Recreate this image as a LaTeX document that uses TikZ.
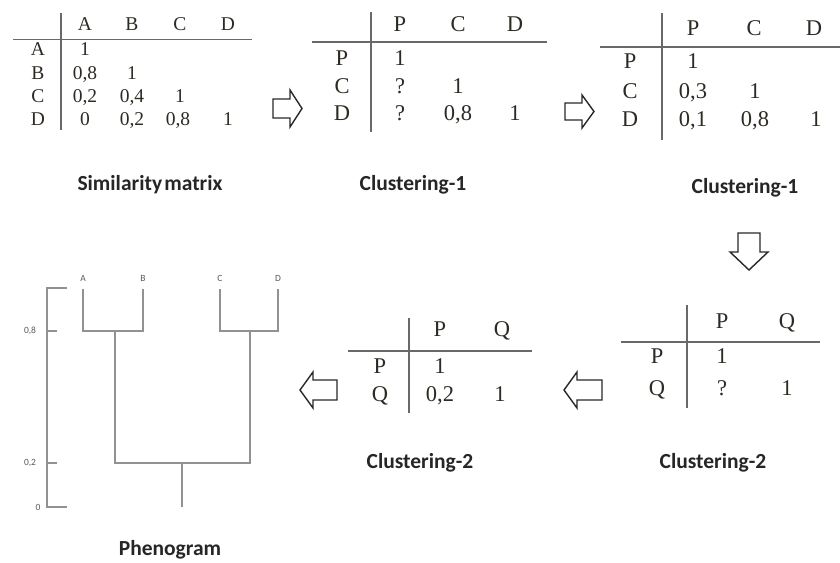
\documentclass[tikz,border=0pt]{standalone}
\usepackage{fontspec}
\setmainfont{Liberation Serif}
\newfontfamily\lblfont{Carlito}
\definecolor{tabtext}{RGB}{45,42,35}
\definecolor{tabline}{RGB}{105,105,105}
\definecolor{treeline}{RGB}{145,145,145}
\definecolor{arrowc}{RGB}{40,40,40}
\tikzset{
  ta/.style={inner sep=0pt, text=tabtext, font=\fontsize{19.5}{21}\selectfont, text height=0.68em, text depth=0pt},
  tb/.style={inner sep=0pt, text=tabtext, font=\fontsize{22.5}{24}\selectfont, text height=0.68em, text depth=0pt},
  tline/.style={draw=tabline, line width=1.5pt},
  caption/.style={inner sep=0pt, font=\lblfont\bfseries\fontsize{21.5}{23}\selectfont, text=black!85},
  tree/.style={draw=treeline, line width=2.2pt},
  small/.style={inner sep=0pt, font=\lblfont\fontsize{9.5}{10}\selectfont, text=black!65},
  blockarrow/.style={draw=arrowc, line width=1.4pt, fill=white, line join=miter}
}
\begin{document}
\begin{tikzpicture}[x=1pt,y=-1pt]
\useasboundingbox (0,0) rectangle (840,562);
% ---------- Table 1: similarity matrix
\draw[tline] (61,13) -- (61,130);
\draw[tline] (13,39.5) -- (252,39.5);
\node[ta] (t1hA) at (85,27) {A};
\node[ta] (t1hB) at (132,27) {B};
\node[ta] (t1hC) at (180,27) {C};
\node[ta] (t1hD) at (228,27) {D};
\node[ta] (t1rA) at (38,52) {A};
\node[ta] (t1rB) at (38,76) {B};
\node[ta] (t1rC) at (38,99) {C};
\node[ta] (t1rD) at (38,122) {D};
\node[ta] (t1aa) at (85,52) {1};
\node[ta] (t1ba) at (85,76) {0,8};
\node[ta] (t1bb) at (132,76) {1};
\node[ta] (t1ca) at (85,99) {0,2};
\node[ta] (t1cb) at (132,99) {0,4};
\node[ta] (t1cc) at (180,99) {1};
\node[ta] (t1da) at (85,122) {0};
\node[ta] (t1db) at (132,122) {0,2};
\node[ta] (t1dc) at (178,122) {0,8};
\node[ta] (t1dd) at (228,122) {1};
\node[caption] (cap1) at (150,185) {Similarity\hspace{0.1em}matrix};
% ---------- Table 2
\draw[tline] (371,12) -- (371,132);
\draw[tline] (312,42) -- (547,42);
\node[tb] (t2hP) at (400,28) {P};
\node[tb] (t2hC) at (458,28) {C};
\node[tb] (t2hD) at (515,28) {D};
\node[tb] (t2rP) at (342,62) {P};
\node[tb] (t2rC) at (342,90) {C};
\node[tb] (t2rD) at (342,117) {D};
\node[tb] (t2pp) at (400,62) {1};
\node[tb] (t2cp) at (400,90) {?};
\node[tb] (t2cc) at (458,90) {1};
\node[tb] (t2dp) at (400,117) {?};
\node[tb] (t2dc) at (458,117) {0,8};
\node[tb] (t2dd) at (515,117) {1};
\node[caption] (cap2) at (413,185) {Clustering-1};
% ---------- Table 3
\draw[tline] (662,13) -- (662,140);
\draw[tline] (600,47) -- (840,47);
\node[tb] (t3hP) at (693,32) {P};
\node[tb] (t3hC) at (754,32) {C};
\node[tb] (t3hD) at (814,32) {D};
\node[tb] (t3rP) at (630,65) {P};
\node[tb] (t3rC) at (630,95) {C};
\node[tb] (t3rD) at (630,123) {D};
\node[tb] (t3pp) at (693,65) {1};
\node[tb] (t3cp) at (693,95) {0,3};
\node[tb] (t3cc) at (755,95) {1};
\node[tb] (t3dp) at (693,123) {0,1};
\node[tb] (t3dc) at (755,123) {0,8};
\node[tb] (t3dd) at (816,123) {1};
\node[caption] (cap3) at (745,188) {Clustering-1};
% ---------- Table 4
\draw[tline] (687,305) -- (687,408);
\draw[tline] (621,342) -- (820,342);
\node[tb] (t4hP) at (722,325) {P};
\node[tb] (t4hQ) at (787,325) {Q};
\node[tb] (t4rP) at (657,360) {P};
\node[tb] (t4rQ) at (657,392) {Q};
\node[tb] (t4pp) at (722,360) {1};
\node[tb] (t4qp) at (722,392) {?};
\node[tb] (t4qq) at (787,392) {1};
\node[caption] (cap4) at (713,463) {Clustering-2};
% ---------- Table 5
\draw[tline] (409,318) -- (409,413);
\draw[tline] (348,351) -- (532,351);
\node[tb] (t5hP) at (440,333) {P};
\node[tb] (t5hQ) at (502,333) {Q};
\node[tb] (t5rP) at (380,370) {P};
\node[tb] (t5rQ) at (380,398) {Q};
\node[tb] (t5pp) at (440,370) {1};
\node[tb] (t5qp) at (440,398) {0,2};
\node[tb] (t5qq) at (500,398) {1};
\node[caption] (cap5) at (420,463) {Clustering-2};
% ---------- Block arrows
\draw[blockarrow] (273,99) -- (290,99) -- (290,90) -- (302,108.5) -- (290,127) -- (290,118) -- (273,118) -- cycle;
\draw[blockarrow] (565,103) -- (582,103) -- (582,95) -- (594,111.5) -- (582,128) -- (582,120) -- (565,120) -- cycle;
\draw[blockarrow] (738,233) -- (760,233) -- (760,252) -- (768,252) -- (749,270) -- (730,252) -- (738,252) -- cycle;
\draw[blockarrow] (602,380) -- (577,380) -- (577,372) -- (564,390) -- (577,408) -- (577,400) -- (602,400) -- cycle;
\draw[blockarrow] (337,380) -- (313,380) -- (313,372) -- (300,390) -- (313,408) -- (313,400) -- (337,400) -- cycle;
% ---------- Phenogram
\coordinate (ax0) at (47,507);
\coordinate (axT) at (47,288);
\draw[tree] (67,288) -- (axT) -- (ax0) -- (67,507);
\draw[tree] (47,331) -- (57,331);
\draw[tree] (47,463) -- (57,463);
\node[small] (lab08) at (30,331) {0,8};
\node[small] (lab02) at (30,463) {0,2};
\node[small] (lab0) at (38,507) {0};
\node[small] (lfA) at (83,278) {A};
\node[small] (lfB) at (143,278) {B};
\node[small] (lfC) at (220,278) {C};
\node[small] (lfD) at (278,278) {D};
\coordinate (jAB) at (115,331);
\coordinate (jCD) at (250,331);
\coordinate (root) at (182,463);
\draw[tree] (83,289) -- (83,331) -- (143,331) -- (143,289);
\draw[tree] (220,289) -- (220,331) -- (278,331) -- (278,289);
\draw[tree] (jAB) -- (115,463) -- (250,463) -- (jCD);
\draw[tree] (root) -- (182,507);
\node[caption] (cap6) at (170,550) {Phenogram};
\end{tikzpicture}
\end{document}
